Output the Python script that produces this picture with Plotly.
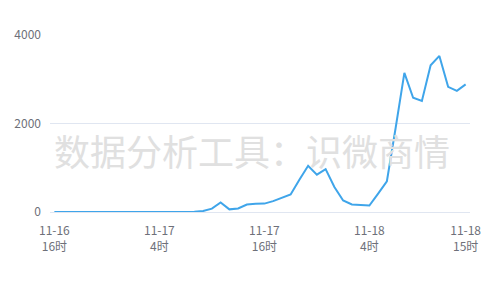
import plotly.graph_objects as go

dates = ["11-16"] * 8 + ["11-17"] * 24 + ["11-18"] * 16
hours = [16, 17, 18, 19, 20, 21, 22, 23,
         0, 1, 2, 3, 4, 5, 6, 7, 8, 9, 10, 11, 12, 13, 14, 15, 16, 17, 18, 19, 20, 21, 22, 23,
         0, 1, 2, 3, 4, 5, 6, 7, 8, 9, 10, 11, 12, 13, 14, 15]
categories = [f"{d}<br>{h}时" for d, h in zip(dates, hours)]

values = [0, 0, 0, 0, 0, 8, 10, 6, 2, 0, 0, 0, 0, 0, 0, 0,
          5, 25, 75, 215, 60, 80, 170, 185, 190, 245, 320, 395,
          730, 1046, 845, 970, 565, 260, 170, 160, 145, 415, 695, 1900,
          3145, 2584, 2510, 3320, 3530, 2830, 2740, 2885]

tick_index = [0, 12, 24, 36, 47]
y_ticks = [0, 2000, 4000]

x = list(range(len(values)))
font = "Noto Sans CJK SC"
label_color = "#6e7079"

fig = go.Figure()
fig.add_trace(go.Scatter(
    x=x, y=values, mode="lines",
    line=dict(color="#3fa5ea", width=2),
    hoverinfo="skip",
))

fig.add_annotation(
    text="数据分析工具：识微商情", xref="paper", yref="paper",
    x=0.482, y=0.35, showarrow=False,
    font=dict(family=font, size=36, color="#e0e0e0"),
)

fig.update_layout(
    width=500, height=300,
    margin=dict(l=50, r=30, t=35, b=87.5),
    paper_bgcolor="white", plot_bgcolor="white",
    showlegend=False,
    font=dict(family=font, size=12, color=label_color),
    xaxis=dict(
        range=[-0.5, len(values) - 0.5],
        tickmode="array",
        tickvals=tick_index,
        ticktext=[categories[i] for i in tick_index],
        showgrid=False, zeroline=False,
        showline=False, ticks="",
        ticklabelstandoff=10,
        tickfont=dict(family=font, size=12, color=label_color),
    ),
    yaxis=dict(
        range=[0, 4003],
        tickmode="array", tickvals=y_ticks,
        ticktext=[str(v) for v in y_ticks],
        showgrid=True, gridcolor="#e0e6f1", gridwidth=1,
        zeroline=True, zerolinecolor="#e0e6f1", zerolinewidth=1,
        ticks="", ticklabelstandoff=8,
        tickfont=dict(family=font, size=12, color=label_color),
    ),
)

fig.write_html("out.html")
